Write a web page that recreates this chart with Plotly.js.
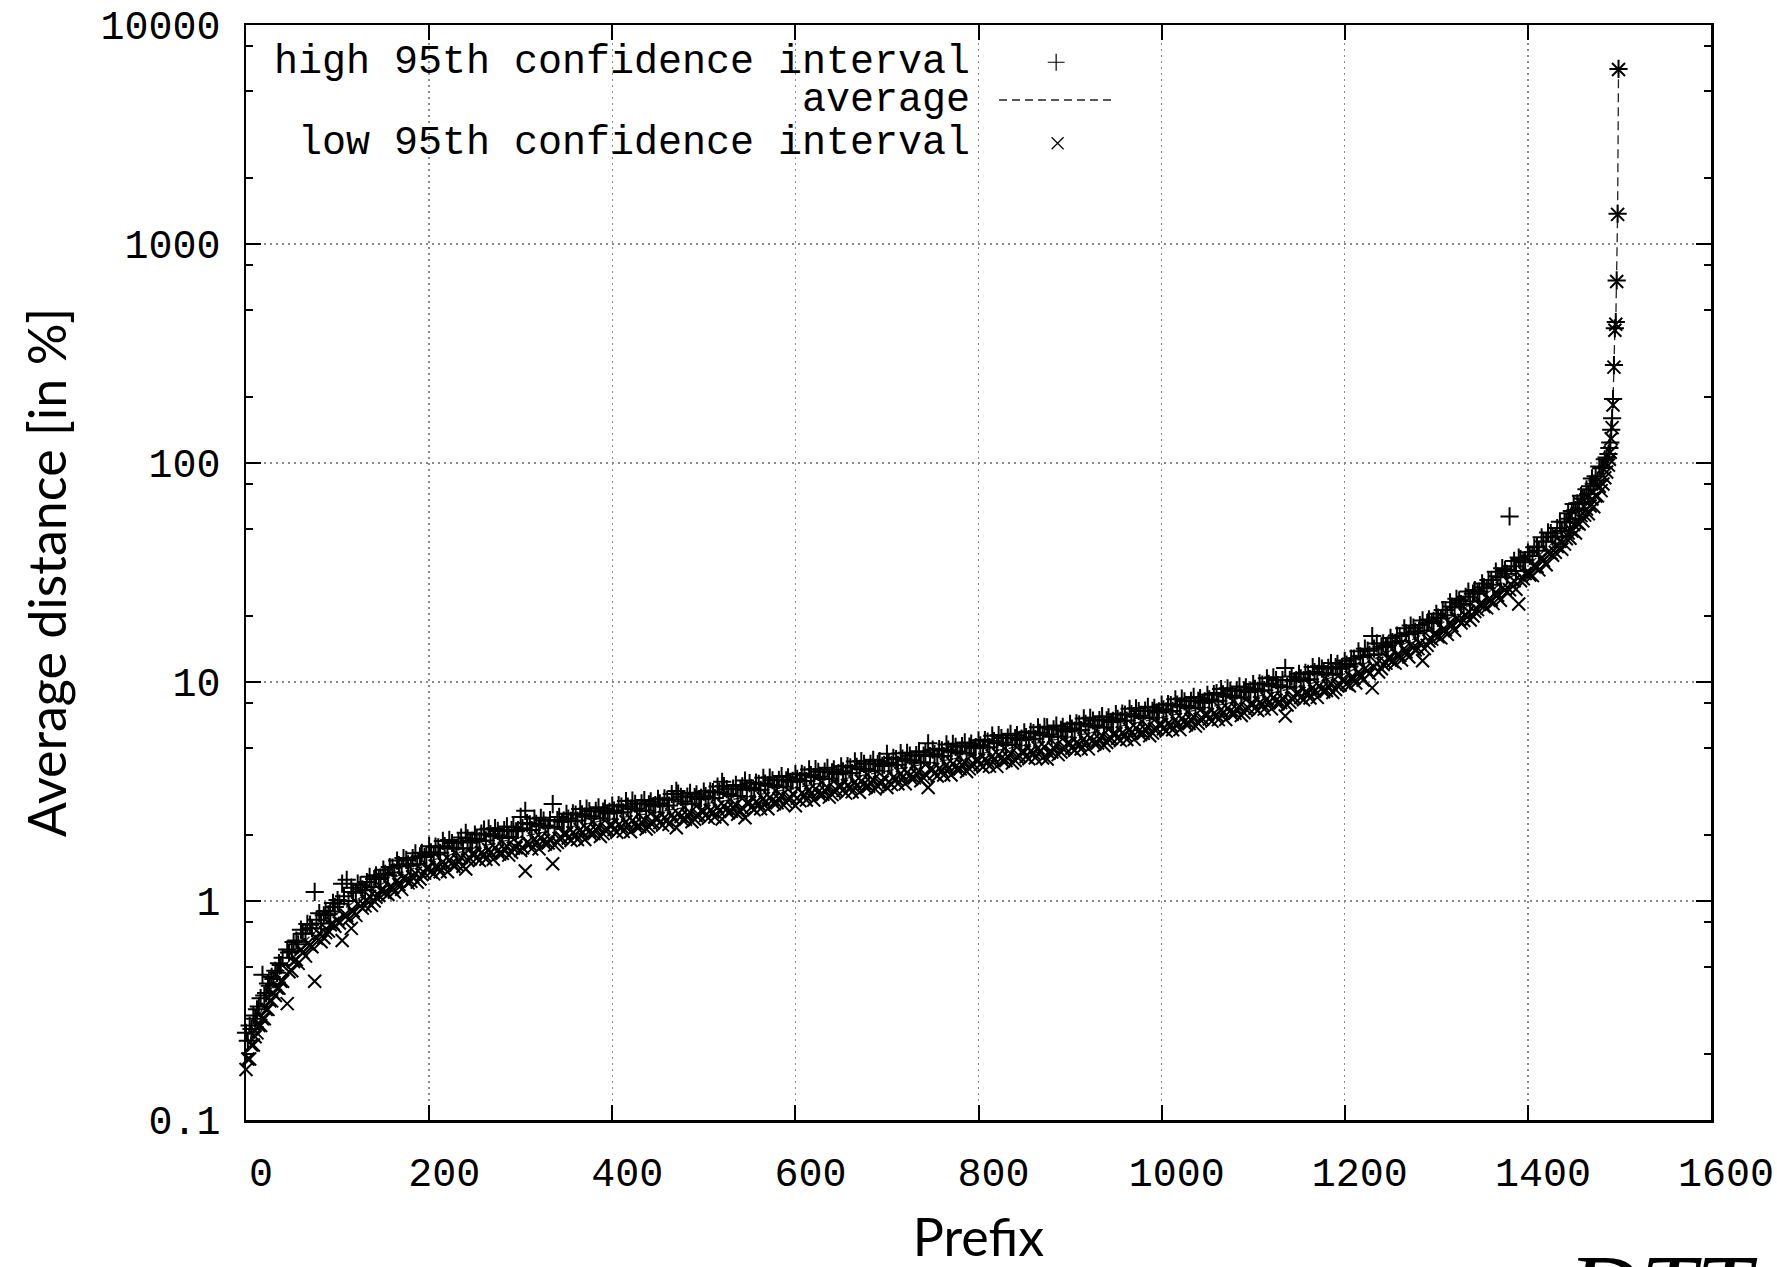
<!DOCTYPE html>
<html>
<head>
<meta charset="utf-8">
<script src="https://cdn.plot.ly/plotly-3.0.1.min.js"></script>
<style>
html,body{margin:0;padding:0;background:#ffffff;}
#chart{width:1777px;height:1267px;}
</style>
</head>
<body>
<div id="chart"></div>
<script>
// ---- data ----
// main samples: prefix index, average, high / low 95th confidence interval
const prefixIdx = [
0,2,4,6,8,10,12,14,16,18,20,22,24,26,28,30,32,34,36,38,40,
45,50,55,60,65,70,75,80,85,90,95,
100,105,110,115,120,125,130,135,140,145,150,155,160,165,170,175,180,185,190,195,
200,205,210,215,220,225,230,235,240,245,250,255,260,265,270,275,280,285,290,295,
300,305,310,315,320,325,330,335,340,345,350,355,360,365,370,375,380,385,390,395,
400,405,410,415,420,425,430,435,440,445,450,455,460,465,470,475,480,485,490,495,
500,505,510,515,520,525,530,535,540,545,550,555,560,565,570,575,580,585,590,595,
600,605,610,615,620,625,630,635,640,645,650,655,660,665,670,675,680,685,690,695,
700,705,710,715,720,725,730,735,740,745,750,755,760,765,770,775,780,785,790,795,
800,805,810,815,820,825,830,835,840,845,850,855,860,865,870,875,880,885,890,895,
900,905,910,915,920,925,930,935,940,945,950,955,960,965,970,975,980,985,990,995,
1000,1005,1010,1015,1020,1025,1030,1035,1040,1045,1050,1055,1060,1065,1070,1075,1080,1085,1090,1095,
1100,1105,1110,1115,1120,1125,1130,1135,1140,1145,1150,1155,1160,1165,1170,1175,1180,1185,1190,1195,
1200,1205,1210,1215,1220,1225,1230,1235,1240,1245,1250,1255,1260,1265,1270,1275,1280,1285,1290,1295,
1300,1305,1310,1315,1320,1325,1330,1335,1340,1345,1350,1355,1360,1365,1370,1375,1380,1385,1390,1395,
1400,1405,1410,1415,1420,1425,1430,1435,1440,
1442,1444,1446,1448,1450,1452,1454,1456,1458,1460,1462,1464,1466,1468,1470,1472,1474,1476,1478,1480,1482,1484,1486,1488,
1489,1490,1491,1492,1493,1494,1495,1496,1497,1498,1499
];
const avgDist = [
0.20,0.215,0.23,0.245,0.26,0.27,0.285,0.30,0.31,0.325,0.34,0.355,0.37,0.385,0.40,0.415,0.43,0.445,0.46,0.475,0.49,
0.52,0.555,0.59,0.625,0.66,0.69,0.72,0.755,0.785,0.815,0.85,
0.88,0.91,0.945,0.975,1.01,1.04,1.075,1.11,1.145,1.175,1.21,1.24,1.27,1.30,1.33,1.36,1.39,1.42,1.45,1.49,
1.52,1.54,1.57,1.59,1.61,1.63,1.66,1.68,1.70,1.73,1.75,1.77,1.79,1.81,1.83,1.85,1.87,1.89,1.92,1.94,
1.96,1.98,2.0,2.02,2.04,2.06,2.08,2.11,2.13,2.15,2.17,2.19,2.21,2.23,2.25,2.27,2.29,2.31,2.33,2.35,
2.37,2.39,2.41,2.42,2.44,2.46,2.48,2.49,2.51,2.53,2.55,2.57,2.59,2.61,2.63,2.65,2.67,2.69,2.71,2.73,
2.75,2.77,2.80,2.82,2.85,2.87,2.90,2.92,2.95,2.97,3.0,3.03,3.06,3.09,3.12,3.15,3.18,3.21,3.24,3.27,
3.30,3.33,3.35,3.38,3.41,3.44,3.47,3.50,3.52,3.55,3.58,3.61,3.64,3.68,3.71,3.74,3.77,3.80,3.84,3.87,
3.90,3.94,3.97,4.01,4.05,4.08,4.12,4.16,4.19,4.23,4.27,4.31,4.35,4.40,4.44,4.48,4.53,4.57,4.61,4.66,
4.70,4.74,4.78,4.82,4.87,4.91,4.95,5.00,5.04,5.08,5.12,5.17,5.22,5.26,5.31,5.36,5.41,5.46,5.50,5.55,
5.60,5.66,5.72,5.78,5.84,5.90,5.96,6.02,6.08,6.14,6.20,6.26,6.33,6.39,6.46,6.52,6.59,6.65,6.72,6.78,
6.85,6.92,7.00,7.07,7.15,7.22,7.30,7.37,7.45,7.52,7.60,7.69,7.78,7.87,7.96,8.05,8.14,8.23,8.32,8.41,
8.50,8.60,8.70,8.80,8.90,9.00,9.10,9.20,9.30,9.40,9.50,9.63,9.77,9.91,10.05,10.2,10.34,10.48,10.62,10.76,
10.9,11.15,11.4,11.7,12.0,12.3,12.6,12.9,13.2,13.5,13.8,14.2,14.5,14.9,15.3,15.7,16.1,16.5,16.9,17.4,
17.8,18.4,19.0,19.6,20.3,20.9,21.6,22.3,23.0,23.7,24.5,25.3,26.1,27.0,27.9,28.8,29.8,30.8,31.8,32.9,
34.0,35.5,37.1,38.8,40.5,42.3,44.2,46.5,49.0,
50,51.2,52.5,53.8,55,56.5,58,59.5,61,62.5,64.2,66,68,70,72,74.5,77,80,83,86,89,93,98,104,
110,118,135,152,190,277,408,435,678,1370,6280
];
const highCI = [
0.25,0.23,0.27,0.26,0.30,0.29,0.32,0.33,0.36,0.46,0.37,0.38,0.42,0.41,0.45,0.44,0.48,0.47,0.52,0.51,0.55,
0.60,0.59,0.66,0.74,0.71,0.78,1.1,0.88,0.86,0.87,0.98,
1.01,1.2,1.25,1.15,1.09,1.18,1.12,1.29,1.26,1.26,1.39,1.31,1.42,1.53,1.44,1.54,1.45,1.65,1.60,1.59,
1.78,1.63,1.76,1.88,1.74,1.84,1.73,1.95,2.05,1.85,2.01,1.88,2.12,2.14,1.98,2.09,1.94,2.19,2.11,2.08,
2.42,2.58,2.24,2.38,2.20,2.33,2.16,2.77,2.34,2.30,2.50,2.32,2.48,2.63,2.43,2.57,2.38,2.68,2.56,2.51,
2.73,2.53,2.70,2.86,2.64,2.78,2.58,2.89,2.76,2.71,2.93,2.72,2.90,3.08,3.18,2.99,2.78,3.12,2.98,2.92,
3.16,2.94,3.14,3.33,3.50,3.24,3.02,3.39,3.25,3.55,3.45,3.21,3.43,3.65,3.37,3.56,3.31,3.72,3.56,3.50,
3.80,3.53,3.75,3.99,3.68,3.89,3.61,4.06,3.87,3.80,4.12,3.83,4.08,4.34,4.01,4.23,3.92,4.41,4.22,4.14,
4.70,4.18,4.45,4.73,4.37,4.61,4.28,4.83,4.61,5.25,4.91,4.57,4.87,5.19,4.80,5.06,4.71,5.30,5.07,4.99,
5.41,5.02,5.35,5.69,5.26,5.55,5.15,5.80,5.54,5.44,5.89,5.48,5.85,6.21,5.73,6.20,5.63,6.33,6.05,5.94,
6.44,6.00,6.41,6.82,6.31,6.67,6.20,6.98,6.69,6.57,7.13,6.64,7.09,7.54,6.98,7.37,6.85,7.71,7.39,7.25,
7.88,7.34,7.84,8.34,7.72,8.16,7.59,8.55,8.20,8.05,8.74,8.15,8.90,9.29,8.60,9.10,8.47,9.55,9.15,9.00,
9.78,9.12,9.74,10.4,9.61,10.2,9.46,11.6,10.2,10.1,10.9,10.2,10.9,11.7,10.9,11.5,10.8,12.2,11.7,11.5,
12.5,11.8,12.8,13.8,13.0,13.9,16.2,15.0,14.5,14.4,15.9,15.1,16.2,17.6,16.5,17.7,16.7,19.1,18.6,18.6,
20.5,19.5,21.3,23.1,21.9,23.6,22.5,25.9,25.3,25.4,28.2,26.8,29.2,31.9,30.1,32.5,57.0,35.7,37.0,35.2,
39.1,37.6,41.6,45.8,43.7,47.8,46.0,53.9,53.9,
53.5,58.9,55.7,60.3,64.9,61.0,65.5,61.9,70.8,68.8,68.7,75.9,72.1,78.4,85.0,80.5,87.0,83.2,96.3,94.6,95.2,104,106,110,
117,124,142,160,196,280,412,440,682,1375,6300
];
const lowCI = [
0.17,0.19,0.19,0.22,0.22,0.24,0.25,0.27,0.27,0.29,0.29,0.32,0.32,0.35,0.35,0.38,0.37,0.40,0.40,0.43,0.43,
0.34,0.48,0.54,0.60,0.56,0.63,0.43,0.71,0.68,0.73,0.79,
0.82,0.66,0.86,0.75,0.86,0.95,0.95,1.05,1.00,1.06,1.13,1.07,1.15,1.24,1.13,1.25,1.23,1.34,1.26,1.34,
1.42,1.33,1.43,1.51,1.36,1.49,1.47,1.58,1.40,1.56,1.64,1.53,1.63,1.72,1.55,1.70,1.65,1.78,1.67,1.75,
1.70,1.37,1.82,1.92,1.73,1.89,1.84,1.48,1.85,1.94,2.03,1.89,2.01,2.12,1.91,2.08,2.03,2.18,2.03,2.12,
2.22,2.06,2.19,2.30,2.07,2.26,2.19,2.35,2.18,2.28,2.38,2.22,2.35,2.48,2.16,2.43,2.36,2.54,2.36,2.46,
2.57,2.39,2.55,2.68,2.37,2.63,2.57,2.75,2.57,2.40,2.81,2.61,2.78,2.94,2.64,2.89,2.81,3.03,2.82,2.95,
2.72,2.87,3.05,3.22,2.89,3.15,3.07,3.30,3.06,3.20,3.35,3.11,3.31,3.50,3.14,3.43,3.34,3.58,3.34,3.49,
3.30,3.40,3.61,3.82,3.43,3.74,3.65,3.92,3.65,3.30,3.99,3.72,3.95,4.19,3.76,4.11,4.01,4.31,4.01,4.20,
4.39,4.09,4.35,4.59,4.12,4.50,4.38,4.72,4.38,4.58,4.79,4.46,4.74,5.01,4.50,4.45,4.79,5.15,4.79,5.00,
5.24,4.88,5.20,5.50,4.95,5.41,5.27,5.68,5.29,5.53,5.80,5.40,5.75,6.08,5.47,5.98,5.83,6.27,5.85,6.11,
6.40,5.97,6.36,6.73,6.06,6.62,6.46,6.95,6.48,6.78,7.11,6.63,7.07,7.49,6.74,7.38,7.20,7.76,7.24,7.58,
7.95,7.41,7.91,8.38,7.54,8.25,8.05,7.00,8.09,8.47,8.88,8.30,8.88,9.43,8.51,9.35,9.15,9.88,9.24,9.69,
10.2,9.61,10.4,11.1,10.2,11.3,9.4,12.2,11.5,12.2,12.9,12.2,13.2,14.2,13.0,14.4,14.2,12.5,14.7,15.7,
16.6,15.9,17.3,18.7,17.2,19.2,19.1,21.0,20.0,21.4,22.9,21.8,23.7,25.7,23.6,26.4,26.4,29.0,22.7,29.6,
31.8,30.6,33.7,36.9,34.3,38.8,39.1,43.9,42.6,
45.1,47.9,45.3,48.9,52.4,47.9,53.2,52.7,57.5,54.4,57.8,61.7,58.6,63.6,68.5,63.1,70.6,70.8,78.3,74.8,80.2,85.6,91.0,97.8,
104,112,129,145,184,274,404,430,674,1365,6260
];
// in-between samples of the dense band (prefix index, high, low)
const prefixIdxMid = [
47,52,57,62,67,72,77,82,87,92,97,
102,107,112,117,122,127,132,137,142,147,152,157,162,167,172,177,182,187,192,197,
202,207,212,217,222,227,232,237,242,247,252,257,262,267,272,277,282,287,292,297,
302,307,312,317,322,327,332,337,342,347,352,357,362,367,372,377,382,387,392,397,
402,407,412,417,422,427,432,437,442,447,452,457,462,467,472,477,482,487,492,497,
502,507,512,517,522,527,532,537,542,547,552,557,562,567,572,577,582,587,592,597,
602,607,612,617,622,627,632,637,642,647,652,657,662,667,672,677,682,687,692,697,
702,707,712,717,722,727,732,737,742,747,752,757,762,767,772,777,782,787,792,797,
802,807,812,817,822,827,832,837,842,847,852,857,862,867,872,877,882,887,892,897,
902,907,912,917,922,927,932,937,942,947,952,957,962,967,972,977,982,987,992,997,
1002,1007,1012,1017,1022,1027,1032,1037,1042,1047,1052,1057,1062,1067,1072,1077,1082,1087,1092,1097,
1102,1107,1112,1117,1122,1127,1132,1137,1142,1147,1152,1157,1162,1167,1172,1177,1182,1187,1192,1197,
1202,1207,1212,1217,1222,1227,1232,1237,1242,1247,1252,1257,1262,1267,1272,1277,1282,1287,1292,1297,
1302,1307,1312,1317,1322,1327,1332,1337,1342,1347,1352,1357,1362,1367,1372,1377,1382,1387,1392,1397,
1402,1407,1412,1417,1422,1427,1432,1437
];
const highCIMid = [
0.582,0.649,0.634,0.709,0.786,0.751,0.822,0.790,0.901,0.895,0.940,
0.972,1.05,1.00,1.10,1.20,1.13,1.22,1.16,1.31,1.28,1.33,1.43,1.35,1.46,1.57,1.47,1.57,1.47,1.66,1.62,
1.67,1.77,1.66,1.78,1.90,1.75,1.87,1.74,1.93,1.88,1.92,2.03,1.89,2.02,2.15,1.99,2.11,1.96,2.18,2.11,
2.15,2.27,2.11,2.25,2.40,2.21,2.34,2.18,2.42,2.33,2.38,2.51,2.33,2.49,2.64,2.44,2.58,2.39,2.64,2.55,
2.59,2.74,2.54,2.70,2.87,2.64,2.79,2.58,2.85,2.74,2.79,2.94,2.73,2.91,3.09,2.85,3.00,2.78,3.07,2.96,
3.01,3.17,2.95,3.14,3.35,3.08,3.26,3.02,3.34,3.22,3.28,3.47,3.22,3.44,3.66,3.38,3.57,3.32,3.67,3.54,
3.61,3.81,3.53,3.76,4.00,3.69,3.90,3.62,3.99,3.84,3.91,4.13,3.84,4.10,4.35,4.01,4.23,3.93,4.35,4.19,
4.27,4.50,4.19,4.47,4.75,4.39,4.64,4.30,4.76,4.59,4.68,4.94,4.59,4.91,5.22,4.82,5.10,4.73,5.23,5.05,
5.14,5.43,5.04,5.37,5.72,5.28,5.57,5.17,5.72,5.51,5.60,5.92,5.50,5.86,6.24,5.76,6.08,5.64,6.24,6.02,
6.13,6.48,6.03,6.44,6.86,6.33,6.70,6.22,6.89,6.65,6.78,7.17,6.67,7.13,7.58,7.01,7.40,6.88,7.63,7.35,
7.50,7.92,7.38,7.88,8.40,7.76,8.21,7.62,8.45,8.15,8.33,8.81,8.21,8.78,9.36,8.66,9.16,8.52,9.45,9.13,
9.31,9.85,9.18,9.81,10.5,9.67,10.2,9.52,10.6,10.2,10.4,11.0,10.3,11.1,11.8,11.0,11.6,10.9,12.1,11.7,
12.0,12.8,12.1,13.1,14.2,13.3,14.2,13.4,15.0,14.7,15.2,16.3,15.4,16.7,18.1,17.0,18.2,17.2,19.3,19.0,
19.7,21.3,20.2,22.1,24.0,22.7,24.5,23.3,26.3,25.9,27.1,29.2,27.8,30.4,33.1,31.2,33.8,32.1,36.4,36.0,
37.7,41.2,39.7,43.8,48.2,46.1,50.5,48.9
];
const lowCIMid = [
0.475,0.529,0.519,0.581,0.638,0.618,0.675,0.652,0.717,0.779,0.767,
0.794,0.859,0.823,0.900,0.971,0.928,1.00,0.955,1.04,1.12,1.09,1.16,1.10,1.19,1.27,1.21,1.29,1.22,1.32,1.41,
1.36,1.44,1.36,1.46,1.54,1.44,1.54,1.44,1.54,1.64,1.57,1.66,1.55,1.66,1.75,1.64,1.73,1.62,1.74,1.83,
1.75,1.85,1.73,1.85,1.95,1.82,1.92,1.80,1.93,2.03,1.94,2.05,1.91,2.04,2.15,2.01,2.12,1.97,2.11,2.22,
2.12,2.23,2.08,2.21,2.33,2.17,2.29,2.13,2.27,2.39,2.28,2.40,2.24,2.38,2.51,2.34,2.47,2.30,2.45,2.58,
2.46,2.59,2.42,2.58,2.72,2.53,2.68,2.49,2.66,2.80,2.68,2.83,2.64,2.82,2.97,2.78,2.93,2.74,2.93,3.08,
2.95,3.11,2.89,3.08,3.25,3.04,3.20,2.98,3.18,3.35,3.20,3.37,3.15,3.36,3.53,3.30,3.48,3.25,3.47,3.65,
3.49,3.67,3.43,3.67,3.86,3.61,3.81,3.54,3.79,4.00,3.82,4.03,3.76,4.02,4.24,3.96,4.19,3.90,4.17,4.40,
4.20,4.43,4.13,4.40,4.65,4.34,4.57,4.27,4.55,4.79,4.57,4.83,4.51,4.80,5.06,4.73,5.00,4.66,4.97,5.24,
5.00,5.28,4.94,5.28,5.57,5.21,5.50,5.13,5.49,5.79,5.54,5.85,5.46,5.84,6.16,5.76,6.08,5.68,6.08,6.40,
6.12,6.46,6.05,6.46,6.82,6.38,6.74,6.29,6.73,7.10,6.80,7.19,6.73,7.20,7.60,7.12,7.53,7.03,7.52,7.94,
7.60,8.04,7.52,8.04,8.49,7.96,8.41,7.85,8.41,8.87,8.50,9.01,8.45,9.07,9.60,9.03,9.57,8.96,9.61,10.2,
9.79,10.5,9.89,10.7,11.5,10.9,11.7,11.1,12.0,12.8,12.4,13.3,12.6,13.7,14.7,14.0,15.0,14.2,15.4,16.5,
16.1,17.3,16.5,18.1,19.5,18.6,20.1,19.2,21.0,22.6,22.1,23.8,22.8,24.9,26.8,25.7,27.8,26.5,29.0,31.3,
30.8,33.6,32.5,35.9,39.1,37.9,41.5,40.4
];
const yTickVals = [0.1, 1, 10, 100, 1000, 10000];
const yTickText = ['0.1', '1', '10', '100', '1000', '10000'];
const yMinorVals = [0.2,0.5,0.8,2,5,8,20,50,80,200,500,800,2000,5000,8000];
const xTickVals = [0, 200, 400, 600, 800, 1000, 1200, 1400, 1600];
const legendLabels = ['high 95th confidence interval', 'average', 'low 95th confidence interval'];
const xTitle = 'Prefix';
const yTitle = 'Average distance [in %]';
const cornerMark = 'DTT';

// ---- styles ----
const MONO = 'Liberation Mono, Courier New, monospace';
const SANS = 'Lato, Noto Sans, sans-serif';
const INK = '#000000';
const markerSize = 13;
const markerLine = 2.0;

const traces = [
  {
    x: prefixIdx, y: avgDist, type: 'scatter', mode: 'lines', name: legendLabels[1],
    line: {color: '#222222', width: 1.3, dash: '9px,5px'}, cliponaxis: false, hoverinfo: 'skip'
  },
  {
    x: prefixIdx.concat(prefixIdxMid), y: highCI.concat(highCIMid), type: 'scatter', mode: 'markers', name: legendLabels[0],
    marker: {symbol: 'cross-thin', size: markerSize, color: INK, line: {color: INK, width: markerLine}},
    cliponaxis: false
  },
  {
    x: prefixIdx.concat(prefixIdxMid), y: lowCI.concat(lowCIMid), type: 'scatter', mode: 'markers', name: legendLabels[2],
    marker: {symbol: 'x-thin', size: markerSize, color: INK, line: {color: INK, width: markerLine}},
    cliponaxis: false
  },
  // legend samples (drawn on an overlay frame in plot fractions)
  {
    x: [0.553], y: [0.966], xaxis: 'x2', yaxis: 'y2', type: 'scatter', mode: 'markers',
    marker: {symbol: 'cross-thin', size: 12, color: INK, line: {color: INK, width: 1.2}},
    hoverinfo: 'skip', cliponaxis: false
  },
  {
    x: [0.514, 0.592], y: [0.9315, 0.9315], xaxis: 'x2', yaxis: 'y2', type: 'scatter', mode: 'lines',
    line: {color: '#222222', width: 1.3, dash: '8px,5px'}, hoverinfo: 'skip', cliponaxis: false
  },
  {
    x: [0.554], y: [0.892], xaxis: 'x2', yaxis: 'y2', type: 'scatter', mode: 'markers',
    marker: {symbol: 'x-thin', size: 12, color: INK, line: {color: INK, width: 1.2}},
    hoverinfo: 'skip', cliponaxis: false
  }
];

const legendY = [0.966, 0.9315, 0.892];
const annotations = legendLabels.map((t, i) => ({
  text: t, xref: 'paper', yref: 'paper', x: 0.4956, y: legendY[i],
  xanchor: 'right', yanchor: 'middle', showarrow: false,
  font: {family: MONO, size: 40, color: INK}
}));
annotations.push({
  text: cornerMark, xref: 'paper', yref: 'paper', x: 0.8997, y: -0.102,
  xanchor: 'left', yanchor: 'top', showarrow: false,
  font: {family: 'Liberation Serif, DejaVu Serif, serif', size: 100, color: INK, style: 'italic'}
});

const layout = {
  width: 1777, height: 1267,
  margin: {l: 246, r: 66, t: 25, b: 147, pad: 0},
  paper_bgcolor: '#ffffff', plot_bgcolor: '#ffffff',
  showlegend: false,
  xaxis: {
    range: [0, 1600], tickvals: xTickVals, ticktext: xTickVals.map(String),
    ticks: 'inside', ticklen: 15, tickwidth: 2, tickcolor: INK,
    showline: true, linewidth: 2.5, linecolor: INK, mirror: 'ticks',
    showgrid: true, gridcolor: '#888888', gridwidth: 1.4, griddash: '2px,4px',
    zeroline: false, ticklabelstandoff: 15, ticklabelshift: 15,
    tickfont: {family: MONO, size: 40, color: INK},
    title: {text: xTitle, font: {family: SANS, size: 52, color: INK}, standoff: 60}
  },
  yaxis: {
    type: 'log', range: [-1, 4], tickvals: yTickVals, ticktext: yTickText,
    ticks: 'inside', ticklen: 15, tickwidth: 2, tickcolor: INK,
    showline: true, linewidth: 2.5, linecolor: INK, mirror: 'ticks',
    showgrid: true, gridcolor: '#888888', gridwidth: 1.4, griddash: '2px,4px',
    zeroline: false, ticklabelstandoff: 15,
    tickfont: {family: MONO, size: 40, color: INK},
    minor: {tickvals: yMinorVals, ticks: 'inside', ticklen: 7, tickwidth: 2, tickcolor: INK, showgrid: false},
    title: {text: yTitle, font: {family: SANS, size: 52, color: INK}, standoff: 18}
  },
  xaxis2: {overlaying: 'x', range: [0, 1], visible: false, fixedrange: true},
  yaxis2: {overlaying: 'y', range: [0, 1], visible: false, fixedrange: true},
  shapes: [
    {type: 'rect', xref: 'paper', yref: 'paper', x0: 0.002, x1: 0.60, y0: 0.877, y1: 0.998,
     fillcolor: '#ffffff', line: {width: 0}, layer: 'between'}
  ],
  annotations: annotations
};

Plotly.newPlot('chart', traces, layout, {displayModeBar: false, staticPlot: true});
</script>
</body>
</html>
